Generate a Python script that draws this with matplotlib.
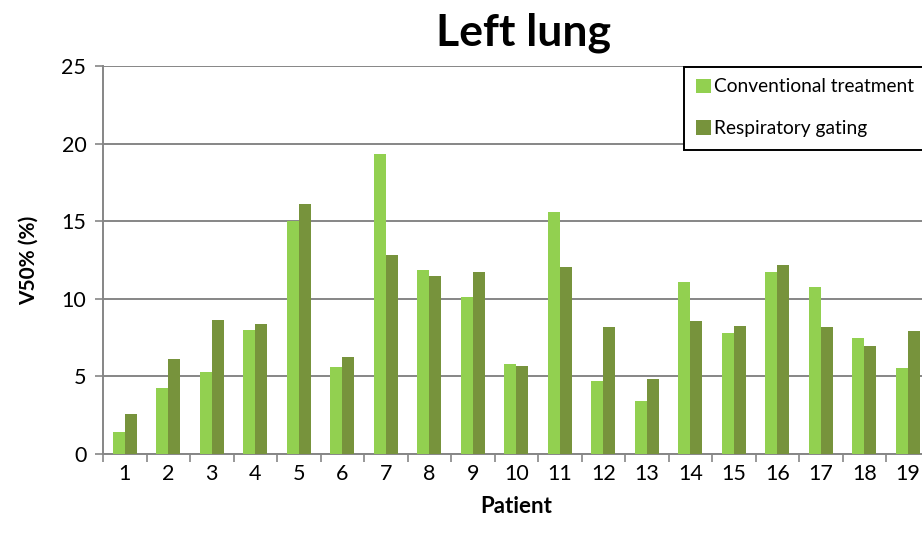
"""Left lung V50% per patient: conventional treatment vs respiratory gating."""

import matplotlib

matplotlib.use("Agg")
import matplotlib.pyplot as plt  # noqa: E402
import numpy as np  # noqa: E402
from matplotlib.patches import Rectangle  # noqa: E402

patients = [str(i) for i in range(1, 20)]
conventional = [1.42, 4.23, 5.28, 7.99, 15.03, 5.61, 19.35, 11.83, 10.09, 5.78,
                15.57, 4.73, 3.41, 11.06, 7.82, 11.75, 10.76, 7.47, 5.56]
gating = [2.58, 6.14, 8.61, 8.40, 16.09, 6.23, 12.80, 11.47, 11.73, 5.67,
          12.03, 8.20, 4.81, 8.57, 8.23, 12.16, 8.20, 6.96, 7.90]
y_ticks = [0, 5, 10, 15, 20, 25]

plt.rcParams["font.family"] = ["Lato", "DejaVu Sans"]

fig = plt.figure(figsize=(9.22, 5.37), dpi=100)
ax = fig.add_axes([103 / 922, 83 / 537, 826.5 / 922, 388 / 537])

x = np.arange(len(patients))
w = 0.28
ax.bar(x - w / 2, conventional, w, color="#92D050", label="Conventional treatment",
       zorder=3)
ax.bar(x + w / 2, gating, w, color="#77933C", label="Respiratory gating",
       zorder=3)

ax.set_xlim(-0.5, len(patients) - 0.5)
ax.set_ylim(0, 25)
ax.set_yticks(y_ticks)
ax.set_xticks(x)
ax.set_xticklabels(patients)
ax.set_xticks(np.arange(len(patients) + 1) - 0.5, minor=True)
ax.tick_params(axis="x", which="major", length=0, labelsize=15.5, pad=7)
ax.tick_params(axis="x", which="minor", length=6, color="#868686", width=1.2)
ax.tick_params(axis="y", length=6, color="#868686", width=1.2, labelsize=15.5,
               pad=6)
ax.grid(axis="y", color="#868686", lw=1.4, zorder=0)
for s in ["top", "right"]:
    ax.spines[s].set_visible(False)
for s in ["left", "bottom"]:
    ax.spines[s].set_color("#868686")
    ax.spines[s].set_linewidth(1.4)

ax.set_ylabel("V50% (%)", fontsize=15, fontweight="bold", labelpad=16)
ax.set_xlabel("Patient", fontsize=16, fontweight="bold", labelpad=9)
fig.text(523 / 922, 1 - 33 / 537, "Left lung", fontsize=32, fontweight="bold",
         ha="center", va="center")

# legend box runs off the right edge, as in the source figure
box = Rectangle((684 / 922, 1 - 150 / 537), 300 / 922, 83 / 537,
                transform=fig.transFigure, facecolor="white",
                edgecolor="black", lw=1.4, zorder=5)
fig.add_artist(box)
leg = fig.legend(loc="upper left", bbox_to_anchor=(684 / 922, 1 - 67 / 537),
                 fontsize=13.8, frameon=False,
                 handlelength=0.8, handleheight=0.8, handletextpad=0.15,
                 labelspacing=1.3, borderpad=0.6, borderaxespad=0)
leg.set_zorder(6)

fig.savefig("out.png", dpi=100)
